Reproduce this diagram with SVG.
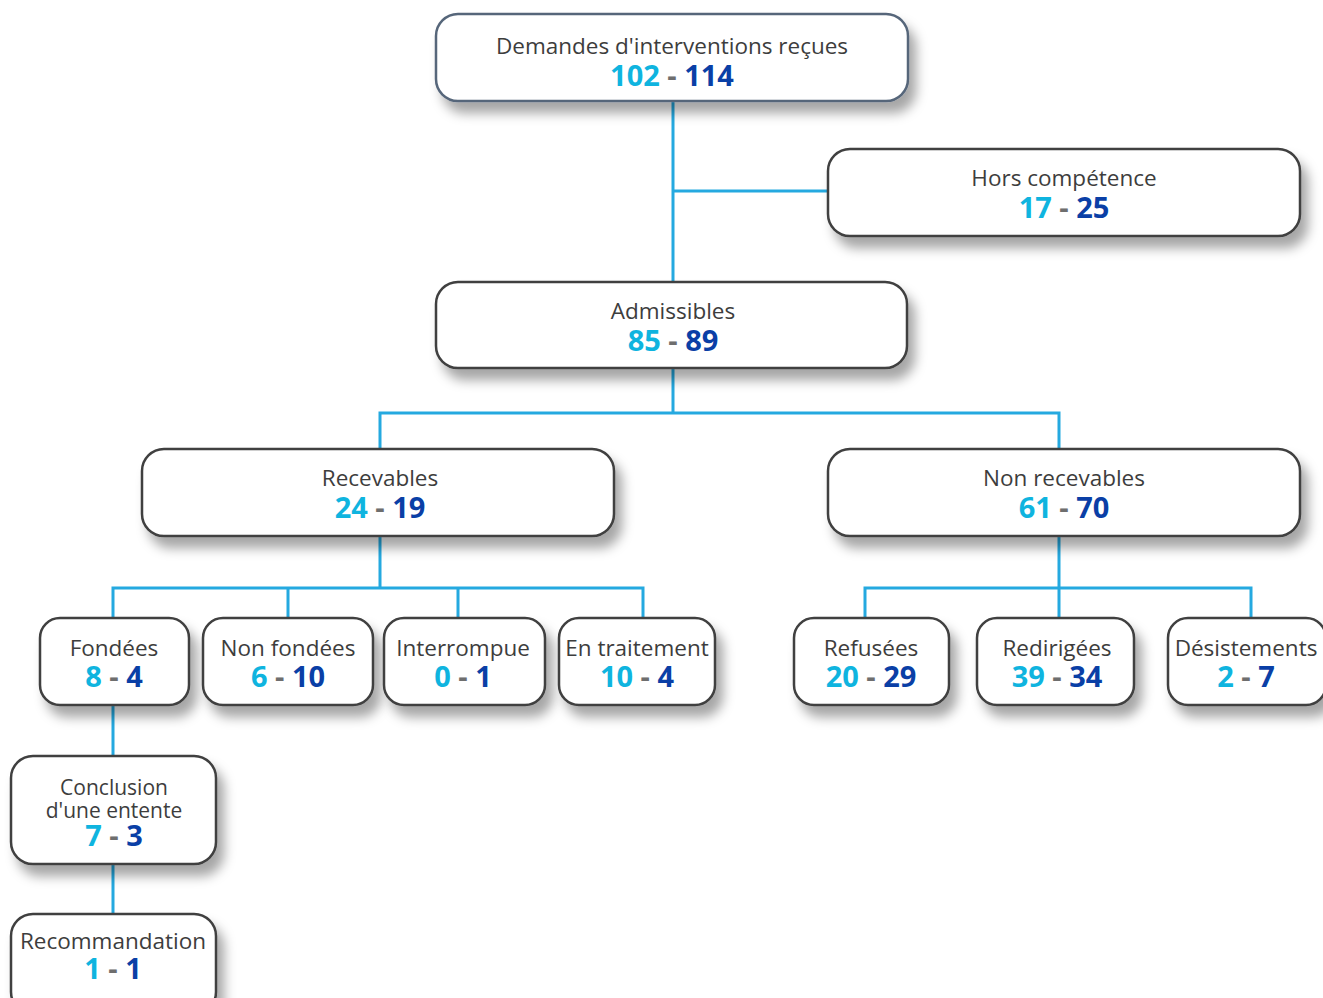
<svg xmlns="http://www.w3.org/2000/svg" width="1323" height="998" viewBox="0 0 1323 998">
<style>
.box{fill:#fff;stroke:#3f3f3f;stroke-width:2.5;filter:url(#sh)}
.top{stroke:#56667a}
.lbl{font-family:"Open Sans","Liberation Sans",sans-serif;font-size:22.5px;fill:#3d3d3d;text-anchor:middle}
.sm{font-size:21px}
.num{font-family:"Open Sans","Liberation Sans",sans-serif;font-size:29px;font-weight:700;text-anchor:middle}
.a{fill:#0fb4df}.b{fill:#0a3fa6}.d{fill:#6e6e6e}
.con{stroke:#25a9e0;stroke-width:3;fill:none}
</style>
<defs>
<filter id="sh" x="-20%" y="-30%" width="150%" height="180%">
<feDropShadow dx="7" dy="11" stdDeviation="6" flood-color="#000" flood-opacity="0.35"/>
</filter>
</defs>
<rect width="1323" height="998" fill="#fff"/>
<g id="connectors">
<path class="con" d="M673 101V282M673 191H828"/>
<path class="con" d="M673 368V413M380 449V413H1059V449"/>
<path class="con" d="M380 536V588M113 618V588H643V618M288 588V618M458 588V618"/>
<path class="con" d="M1059 536V618M865 618V588H1251V618"/>
<path class="con" d="M113 705V756M113 864V914"/>
</g>
<g id="n-demandes"><rect class="box top" x="436" y="14" width="472" height="87" rx="22"/>
<text class="lbl" x="672" y="54">Demandes d'interventions reçues</text>
<text class="num" x="672" y="86"><tspan class="a">102</tspan><tspan class="d"> - </tspan><tspan class="b">114</tspan></text></g>
<g id="n-hors"><rect class="box" x="828" y="149" width="472" height="87" rx="22"/>
<text class="lbl" x="1064" y="186">Hors compétence</text>
<text class="num" x="1064" y="218"><tspan class="a">17</tspan><tspan class="d"> - </tspan><tspan class="b">25</tspan></text></g>
<g id="n-admissibles"><rect class="box" x="436" y="282" width="471" height="86" rx="22"/>
<text class="lbl" x="673" y="319">Admissibles</text>
<text class="num" x="673" y="351"><tspan class="a">85</tspan><tspan class="d"> - </tspan><tspan class="b">89</tspan></text></g>
<g id="n-recevables"><rect class="box" x="142" y="449" width="472" height="87" rx="22"/>
<text class="lbl" x="380" y="486">Recevables</text>
<text class="num" x="380" y="518"><tspan class="a">24</tspan><tspan class="d"> - </tspan><tspan class="b">19</tspan></text></g>
<g id="n-nonrecevables"><rect class="box" x="828" y="449" width="472" height="87" rx="22"/>
<text class="lbl" x="1064" y="486">Non recevables</text>
<text class="num" x="1064" y="518"><tspan class="a">61</tspan><tspan class="d"> - </tspan><tspan class="b">70</tspan></text></g>
<g id="n-fondees"><rect class="box" x="40" y="618" width="149" height="87" rx="20"/>
<text class="lbl" x="114" y="656">Fondées</text>
<text class="num" x="114" y="687"><tspan class="a">8</tspan><tspan class="d"> - </tspan><tspan class="b">4</tspan></text></g>
<g id="n-nonfondees"><rect class="box" x="203" y="618" width="170" height="87" rx="20"/>
<text class="lbl" x="288" y="656">Non fondées</text>
<text class="num" x="288" y="687"><tspan class="a">6</tspan><tspan class="d"> - </tspan><tspan class="b">10</tspan></text></g>
<g id="n-interrompue"><rect class="box" x="384" y="618" width="161" height="87" rx="20"/>
<text class="lbl" x="463" y="656">Interrompue</text>
<text class="num" x="463" y="687"><tspan class="a">0</tspan><tspan class="d"> - </tspan><tspan class="b">1</tspan></text></g>
<g id="n-entraitement"><rect class="box" x="559" y="618" width="156" height="87" rx="20"/>
<text class="lbl" x="637" y="656">En traitement</text>
<text class="num" x="637" y="687"><tspan class="a">10</tspan><tspan class="d"> - </tspan><tspan class="b">4</tspan></text></g>
<g id="n-refusees"><rect class="box" x="794" y="618" width="155" height="87" rx="20"/>
<text class="lbl" x="871" y="656">Refusées</text>
<text class="num" x="871" y="687"><tspan class="a">20</tspan><tspan class="d"> - </tspan><tspan class="b">29</tspan></text></g>
<g id="n-redirigees"><rect class="box" x="977" y="618" width="157" height="87" rx="20"/>
<text class="lbl" x="1057" y="656">Redirigées</text>
<text class="num" x="1057" y="687"><tspan class="a">39</tspan><tspan class="d"> - </tspan><tspan class="b">34</tspan></text></g>
<g id="n-desistements"><rect class="box" x="1168" y="618" width="158" height="87" rx="20"/>
<text class="lbl" x="1246" y="656">Désistements</text>
<text class="num" x="1246" y="687"><tspan class="a">2</tspan><tspan class="d"> - </tspan><tspan class="b">7</tspan></text></g>
<g id="n-conclusion"><rect class="box" x="11" y="756" width="205" height="108" rx="22"/>
<text class="lbl sm" x="114" y="795">Conclusion</text>
<text class="lbl sm" x="114" y="818">d'une entente</text>
<text class="num" x="114" y="846"><tspan class="a">7</tspan><tspan class="d"> - </tspan><tspan class="b">3</tspan></text></g>
<g id="n-recommandation"><rect class="box" x="11" y="914" width="205" height="100" rx="22"/>
<text class="lbl" x="113" y="949">Recommandation</text>
<text class="num" x="113" y="979"><tspan class="a">1</tspan><tspan class="d"> - </tspan><tspan class="b">1</tspan></text></g>
</svg>
